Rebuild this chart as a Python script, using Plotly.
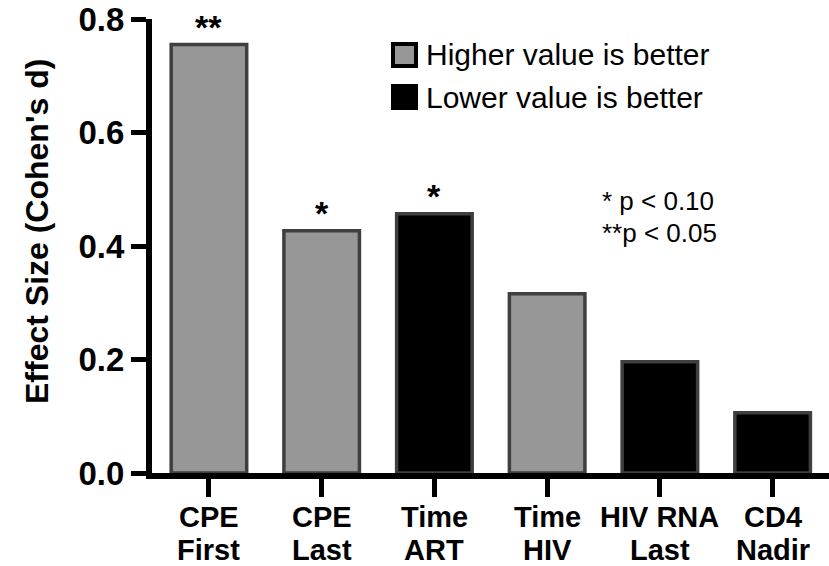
import plotly.graph_objects as go

categories = ["CPE<br>First", "CPE<br>Last", "Time<br>ART", "Time<br>HIV", "HIV RNA<br>Last", "CD4<br>Nadir"]
effect_size = [0.755, 0.427, 0.457, 0.316, 0.196, 0.106]
direction = ["Higher", "Higher", "Lower", "Higher", "Lower", "Lower"]
significance = ["**", "*", "*", "", "", ""]
y_ticks = [0.0, 0.2, 0.4, 0.6, 0.8]
legend_labels = {"Higher": "Higher value is better", "Lower": "Lower value is better"}
colors = {"Higher": "#979797", "Lower": "#000000"}
p_notes = ["* p < 0.10", "**p < 0.05"]

FONT = "Arial, Liberation Sans, sans-serif"
W, H = 829, 566
L, R, T, B = 152, 0, 19, 93
PLOT_H = H - T - B


def ypaper(py):
    return (H - B - py) / PLOT_H


def xpaper(px):
    return (px - L) / (W - L - R)


fig = go.Figure()
for grp in ["Higher", "Lower"]:
    xs = [i for i, d in enumerate(direction) if d == grp]
    ys = [effect_size[i] for i in xs]
    fig.add_trace(go.Bar(
        x=xs, y=ys, name=legend_labels[grp],
        marker=dict(color=colors[grp], line=dict(color="#3f3f3f", width=3.5)),
        width=0.67, showlegend=False,
    ))

fig.update_layout(
    width=W, height=H,
    margin=dict(l=L, r=R, t=T, b=B, autoexpand=False),
    plot_bgcolor="white", paper_bgcolor="white",
    barmode="overlay",
    font=dict(family=FONT, color="black"),
    showlegend=False,
)
fig.update_xaxes(
    range=[-0.505, 5.5],
    tickmode="array", tickvals=list(range(len(categories))),
    ticktext=[""] * len(categories),
    showline=True, linecolor="black", linewidth=6,
    ticks="outside", ticklen=18, tickwidth=5, tickcolor="black",
    showgrid=False, zeroline=False, automargin=False,
)
fig.update_yaxes(
    range=[0, 0.8],
    tickmode="array", tickvals=y_ticks, ticktext=[f"<b>{v:.1f}</b>" for v in y_ticks],
    showline=True, linecolor="black", linewidth=6,
    ticks="outside", ticklen=15, tickwidth=5, tickcolor="black",
    tickfont=dict(size=33),
    showgrid=False, zeroline=False, automargin=False,
)

# category labels (two lines each)
for i, c in enumerate(categories):
    for j, line in enumerate(c.split("<br>")):
        fig.add_annotation(xref="x", yref="paper", x=i, y=ypaper(517 + 33 * j),
                           text=f"<b>{line}</b>", showarrow=False,
                           xanchor="center", yanchor="middle", font=dict(size=29))

# significance markers
for i, s in enumerate(significance):
    if s:
        fig.add_annotation(x=i, y=effect_size[i], text=f"<b>{s}</b>", showarrow=False,
                           yanchor="bottom", yshift=-3, font=dict(size=34))

# y-axis title
fig.add_annotation(xref="paper", yref="paper", x=xpaper(37), y=ypaper(232),
                   text="<b>Effect Size (Cohen's d)</b>", textangle=-90, showarrow=False,
                   xanchor="center", yanchor="middle", font=dict(size=32))

# custom legend
for k, grp in enumerate(["Higher", "Lower"]):
    yc = 55 + 42 * k
    fig.add_annotation(xref="paper", yref="paper", x=xpaper(424), y=ypaper(yc),
                       text=legend_labels[grp], showarrow=False, xanchor="left", yanchor="middle",
                       font=dict(size=30))
    fig.add_shape(type="rect", xref="paper", yref="paper",
                  x0=xpaper(393), x1=xpaper(416),
                  y0=ypaper(yc + 11), y1=ypaper(yc - 11),
                  fillcolor=colors[grp], line=dict(color="black", width=4))

# p-value note
for k, note in enumerate(p_notes):
    fig.add_annotation(xref="paper", yref="paper", x=xpaper(600), y=ypaper(201 + 32 * k),
                       text=note, showarrow=False, xanchor="left", yanchor="middle",
                       font=dict(size=26))

fig.write_html("out.html")
